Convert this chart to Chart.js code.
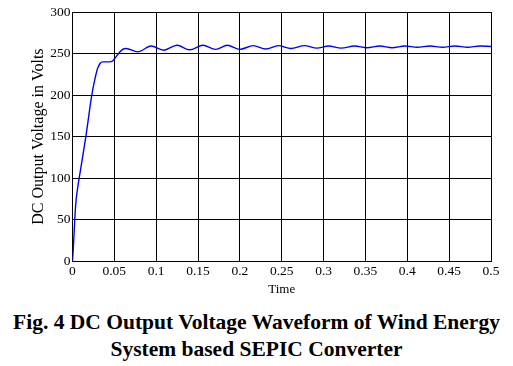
<!DOCTYPE html>
<html>
<head>
<meta charset="utf-8">
<script src="https://cdn.jsdelivr.net/npm/chart.js@4/dist/chart.umd.min.js"></script>
<style>
  html, body { margin: 0; padding: 0; background: #fff; }
  #wrap { width: 513px; height: 309px; }
  #legenda {
    width: 513px;
    text-align: center;
    font-family: "Liberation Serif", "Times New Roman", serif;
    font-weight: bold;
    font-size: 21.5px;
    line-height: 27px;
    color: #000;
    white-space: nowrap;
  }
</style>
</head>
<body>
<div id="wrap"><canvas id="grafico"></canvas></div>
<div id="legenda"></div>
<script>
// time (s) and DC output voltage (V)
const tempo = [0, 0.001, 0.002, 0.003, 0.0045, 0.0065, 0.009, 0.016, 0.0231, 0.027, 0.030, 0.033, 0.036, 0.044, 0.048,
  0.052, 0.056, 0.060, 0.064, 0.078, 0.094, 0.109, 0.125, 0.140, 0.156, 0.171, 0.185, 0.200, 0.216,
  0.231, 0.246, 0.261, 0.277, 0.292, 0.306, 0.321, 0.337, 0.352, 0.367, 0.382, 0.397, 0.412, 0.427,
  0.442, 0.457, 0.472, 0.487, 0.5];
const tensao = [0, 15, 35, 55, 75, 90, 106, 150, 200, 220, 232, 238, 240, 240, 241,
  246, 251, 255, 256, 252, 259, 254, 260, 254.5, 260, 255, 260, 255, 259.5,
  255.5, 259.5, 256, 259.5, 256.5, 259, 256.5, 259, 257, 259, 257, 259, 257.5, 259,
  257.5, 259, 257.5, 259, 258.5];

const xTicks = [0, 0.05, 0.1, 0.15, 0.2, 0.25, 0.3, 0.35, 0.4, 0.45, 0.5];
const yTicks = [0, 50, 100, 150, 200, 250, 300];

const legenda = ['Fig. 4 DC Output Voltage Waveform of Wind Energy', 'System based SEPIC Converter'];

const SERIF = '"Liberation Serif", "Times New Roman", serif';

function desenhar() {
  const ctx = document.getElementById('grafico').getContext('2d');

  Chart.defaults.font.family = SERIF;
  Chart.defaults.color = '#000';

  const pontos = tempo.map((t, i) => ({ x: t, y: tensao[i] }));

  const config = {
    type: 'line',
    data: {
      datasets: [{
        data: pontos,
        borderColor: '#0000ff',
        borderWidth: 1.4,
        pointRadius: 0,
        fill: false,
        cubicInterpolationMode: 'monotone'
      }]
    },
    options: {
      responsive: true,
      maintainAspectRatio: false,
      animation: false,
      layout: { padding: { left: 29, right: 22, top: 12, bottom: 12 } },
      plugins: {
        legend: { display: false },
        tooltip: { enabled: false },
        title: { display: false }
      },
      scales: {
        x: {
          type: 'linear',
          min: 0,
          max: 0.5,
          afterBuildTicks: axis => { axis.ticks = xTicks.map(v => ({ value: v })); },
          ticks: { font: { family: SERIF, size: 13.5 }, padding: 2, maxRotation: 0, autoSkip: false, callback: v => String(v) },
          grid: { color: '#000', lineWidth: 1, drawTicks: false },
          border: { color: '#000', width: 1 },
          title: { display: true, text: 'Time', font: { family: SERIF, size: 13 }, padding: { top: 0, bottom: 0 } }
        },
        y: {
          min: 0,
          max: 300,
          afterBuildTicks: axis => { axis.ticks = yTicks.map(v => ({ value: v })); },
          ticks: { font: { family: SERIF, size: 13.5 }, padding: 2, callback: v => String(v) },
          grid: { color: '#000', lineWidth: 1, drawTicks: false },
          border: { color: '#000', width: 1 },
          title: { display: true, text: 'DC Output Voltage in Volts', font: { family: SERIF, size: 16 }, padding: { top: 0, bottom: 0 } }
        }
      }
    }
  };

  const grafico = new Chart(ctx, config);
}

document.addEventListener('DOMContentLoaded', function() {
  // caption lives under the canvas so it can use the full page width
  const cap = document.getElementById('legenda');
  legenda.forEach(l => {
    const d = document.createElement('div');
    d.textContent = l;
    cap.appendChild(d);
  });

  Promise.all([
    document.fonts.load('13px "Liberation Serif"'),
    document.fonts.load('bold 21px "Liberation Serif"')
  ]).then(desenhar, desenhar);
});
</script>
</body>
</html>
